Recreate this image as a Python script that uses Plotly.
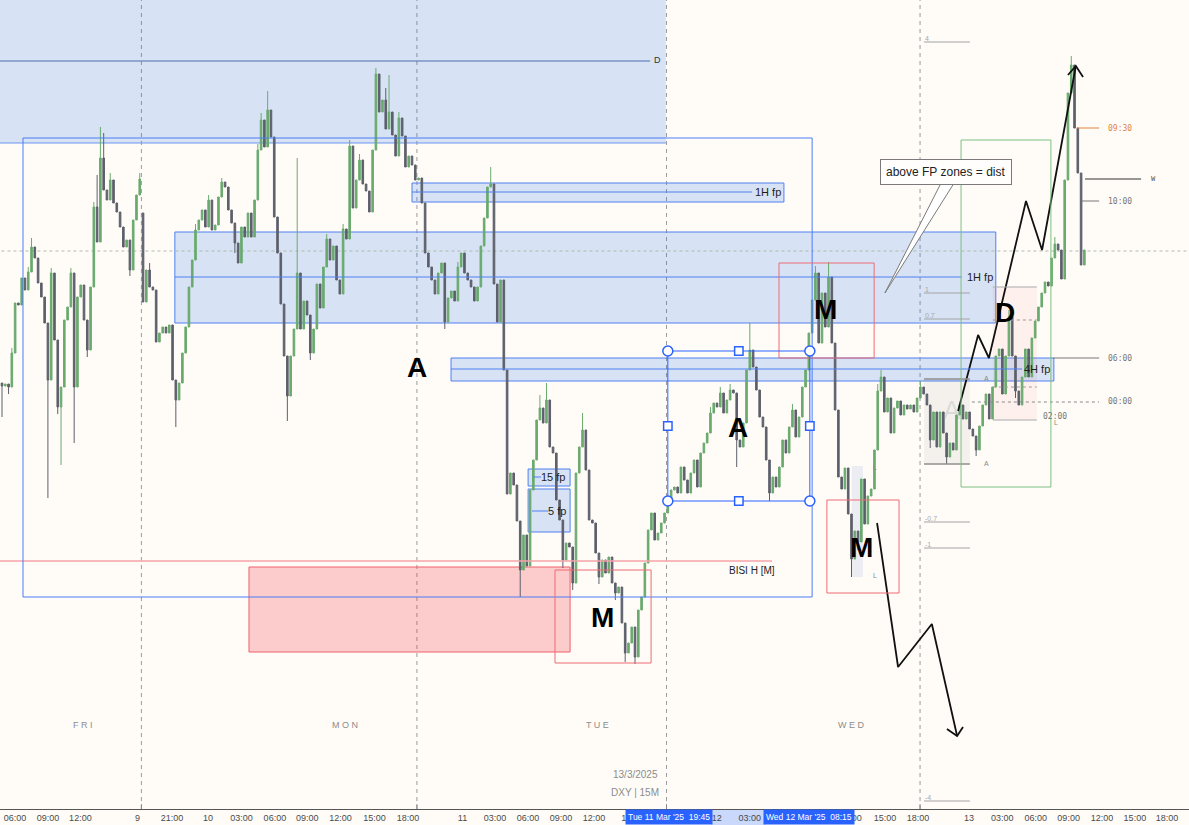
import plotly.graph_objects as go

# ---------------- DXY 15M candle data ----------------
first_open = 104.117
reopen = {43: 104.287}          # Sunday session re-open after the weekend gap
closes = [
    104.114, 104.116, 104.113, 104.147, 104.197, 104.195, 104.222, 104.210, 104.228, 104.253,
    104.242, 104.217, 104.203, 104.177, 104.120, 104.227, 104.160, 104.093, 104.113, 104.180,
    104.193, 104.227, 104.113, 104.203, 104.215, 104.180, 104.150, 104.213, 104.293, 104.258,
    104.342, 104.310, 104.300, 104.320, 104.297, 104.288, 104.273, 104.253, 104.260, 104.230,
    104.280, 104.305, 104.321, 104.198, 104.230, 104.213, 104.210, 104.158, 104.167, 104.173,
    104.167, 104.175, 104.120, 104.100, 104.117, 104.147, 104.173, 104.213, 104.240, 104.270,
    104.280, 104.290, 104.273, 104.300, 104.270, 104.275, 104.303, 104.318, 104.313, 104.290,
    104.277, 104.257, 104.237, 104.273, 104.263, 104.287, 104.263, 104.300, 104.350, 104.380,
    104.353, 104.390, 104.363, 104.283, 104.247, 104.196, 104.144, 104.104, 104.144, 104.171,
    104.227, 104.171, 104.199, 104.185, 104.147, 104.171, 104.216, 104.192, 104.233, 104.261,
    104.240, 104.254, 104.220, 104.206, 104.271, 104.261, 104.354, 104.292, 104.320, 104.340,
    104.316, 104.309, 104.288, 104.350, 104.426, 104.388, 104.400, 104.371, 104.388, 104.365,
    104.344, 104.382, 104.364, 104.333, 104.344, 104.335, 104.320, 104.322, 104.297, 104.247,
    104.233, 104.220, 104.206, 104.227, 104.237, 104.178, 104.202, 104.209, 104.199, 104.233,
    104.247, 104.227, 104.220, 104.213, 104.199, 104.213, 104.254, 104.282, 104.313, 104.316,
    104.216, 104.178, 104.220, 104.130, 104.006, 104.027, 104.015, 103.979, 103.930, 103.965,
    103.934, 104.010, 104.040, 104.080, 104.092, 104.077, 104.100, 104.053, 104.047, 104.000,
    103.980, 103.940, 103.957, 103.953, 103.917, 104.027, 104.053, 104.070, 104.030, 103.980,
    103.977, 103.947, 103.923, 103.940, 103.927, 103.943, 103.917, 103.907, 103.913, 103.877,
    103.847, 103.857, 103.873, 103.843, 103.890, 103.903, 103.937, 103.970, 103.987, 103.960,
    103.967, 103.977, 103.987, 103.997, 104.010, 104.013, 104.007, 104.033, 104.020, 104.007,
    104.027, 104.040, 104.013, 104.047, 104.057, 104.067, 104.087, 104.097, 104.093, 104.107,
    104.087, 104.100, 104.110, 104.107, 104.060, 104.053, 104.077, 104.130, 104.150, 104.133,
    104.110, 104.083, 104.073, 104.040, 104.007, 104.023, 104.013, 104.033, 104.060, 104.047,
    104.073, 104.090, 104.063, 104.083, 104.113, 104.130, 104.167, 104.200, 104.227, 104.157,
    104.207, 104.173, 104.223, 104.157, 104.090, 104.023, 104.011, 104.032, 103.986, 103.941,
    103.969, 103.958, 104.021, 103.976, 104.004, 104.011, 104.050, 104.109, 104.123, 104.088,
    104.102, 104.067, 104.092, 104.099, 104.085, 104.095, 104.091, 104.095, 104.088, 104.102,
    104.113, 104.106, 104.095, 104.060, 104.088, 104.053, 104.088, 104.067, 104.043, 104.057,
    104.050, 104.085, 104.095, 104.081, 104.088, 104.071, 104.064, 104.050, 104.074, 104.095,
    104.106, 104.081, 104.113, 104.144, 104.151, 104.106, 104.144, 104.183, 104.144, 104.109,
    104.095, 104.123, 104.151, 104.123, 104.162, 104.179, 104.193, 104.207, 104.218, 104.214,
    104.242, 104.256, 104.250, 104.221, 104.320, 104.407, 104.435, 104.372, 104.327, 104.235,
    104.250,
]
wick_high = {3: 104.152, 8: 104.233, 9: 104.262, 15: 104.232, 21: 104.232, 28: 104.298,
             29: 104.325, 30: 104.373, 31: 104.367, 33: 104.327, 42: 104.327, 45: 104.237,
             59: 104.276, 63: 104.305, 67: 104.322, 78: 104.356, 79: 104.387, 81: 104.409,
             90: 104.342, 99: 104.266, 104: 104.276, 106: 104.360, 109: 104.346, 114: 104.432,
             117: 104.412, 118: 104.425, 121: 104.388, 139: 104.238, 149: 104.333, 164: 104.105,
             166: 104.117, 177: 104.087, 203: 104.003, 216: 104.093, 219: 104.113, 222: 104.116,
             228: 104.177, 241: 104.096, 248: 104.234, 252: 104.238, 267: 104.116, 268: 104.130,
             280: 104.119, 307: 104.190, 321: 104.263, 326: 104.444}
wick_low = {0: 104.083, 2: 104.106, 14: 104.002, 17: 104.086, 18: 104.035, 22: 104.057,
            26: 104.143, 39: 104.224, 53: 104.073, 71: 104.247, 87: 104.079, 94: 104.140,
            135: 104.171, 158: 103.903, 171: 103.932, 174: 103.910, 182: 103.916, 187: 103.900,
            190: 103.838, 193: 103.836, 224: 104.033, 234: 103.999, 259: 103.923, 261: 103.950,
            283: 104.052, 288: 104.036, 297: 104.044, 309: 104.102}

# ---------------- time axis (bar index positions) ----------------
# labels partly covered by the crosshair date boxes show only their visible fragment
tick_idx = [4.0, 14.0, 23.9, 41.3, 51.8, 62.8, 73.0, 83.2, 93.1, 103.2, 113.6, 123.8, 140.4,
            150.3, 160.4, 170.4, 180.5, 189.6, 217.9, 228.0, 260.6, 269.2, 279.3,
            294.8, 305.0, 315.2, 325.2, 335.4, 345.4, 355.2]
tick_txt = ["06:00", "09:00", "12:00", "9", "21:00", "10", "03:00", "06:00", "09:00", "12:00",
            "15:00", "18:00", "11", "03:00", "06:00", "09:00", "12:00", "1", "12", "03:00",
            "00", "15:00", "18:00", "13", "03:00", "06:00", "09:00",
            "12:00", "15:00", "18:00"]
session_breaks = [42.5, 126.5, 202.6, 279.9]
day_names = ["F R I", "M O N", "T U E", "W E D"]
day_pos = [24.7, 104.6, 181.7, 258.8]

# ---------------- drawings (time index, price) ----------------
zones = [(-2.0, 202.4, 104.56, 104.357), (125.0, 238.4, 104.317, 104.298),
         (52.7, 303.0, 104.268, 104.177), (136.9, 320.7, 104.142, 104.119),
         (160.4, 173.2, 104.031, 104.014), (160.4, 173.2, 104.011, 103.968)]
zone_mids = [(-2.0, 197.6, 104.439), (125.0, 228.7, 104.308), (52.7, 292.7, 104.223),
             (136.9, 311.0, 104.131), (161.9, 164.3, 104.023), (161.6, 166.5, 103.989)]
zone_labels = [("D", 200.0, 104.440), ("1H fp", 233.6, 104.308), ("1H fp", 298.3, 104.223),
               ("4H fp", 315.6, 104.131), ("15 fp", 168.1, 104.023), ("5 fp", 169.3, 103.989)]
blue_box = (6.4, 247.0, 104.362, 103.903)
red_boxes = [(168.6, 197.9, 103.930, 103.837), (236.9, 265.9, 104.237, 104.142),
             (251.5, 273.5, 104.000, 103.907)]
red_fill_box = (75.3, 173.2, 103.933, 103.848)
bisi_line = (-0.6, 234.8, 103.939)
sel_box = (203.0, 246.3, 104.149, 103.999)
green_box = (292.4, 319.8, 104.360, 104.013)
pink_box = (302.1, 315.5, 104.213, 104.080)
gray_box = (281.1, 295.1, 104.121, 104.036)
ghost_box = (259.1, 262.5, 104.034, 103.923)
fib_levels = [("4", 104.458), ("1", 104.207), ("0.7", 104.181), ("-0.7", 103.978),
              ("-1", 103.952), ("-4", 103.699)]
fib_x = (281.1, 295.1)
last_price = 104.249
up_path = ([291.5, 297.6, 300.9, 312.2, 317.1, 327.4],
           [104.089, 104.165, 104.142, 104.299, 104.250, 104.434])
up_head = ([325.0, 327.4, 329.6], [104.425, 104.434, 104.423])
down_path = ([266.8, 273.2, 283.5, 291.2], [103.977, 103.833, 103.876, 103.764])
down_head = ([288.1, 291.2, 293.0], [103.771, 103.764, 103.773])
callout_tail = ([286.0, 269.2, 289.9], [104.315, 104.207, 104.315])
time_marks = [("09:30", 327.7, 334.5, 104.372, "#e2843c"), ("10:00", 329.3, 334.5, 104.299, "#777777"),
              ("06:00", 320.4, 334.5, 104.142, "#777777")]
big_letters = [("A", 126.5, 104.133), ("A", 224.4, 104.073), ("M", 183.2, 103.883),
               ("M", 251.2, 104.191), ("M", 262.2, 103.953), ("D", 305.8, 104.188)]
date_boxes = [("Tue 11 Mar '25&nbsp;&nbsp;19:45", 203.4), ("Wed 12 Mar '25&nbsp;&nbsp;08:15", 246.0)]

# ---------------- build ----------------
opens, highs, lows = [], [], []
prev = first_open
for i, c in enumerate(closes):
    o = reopen.get(i, prev)
    opens.append(o)
    highs.append(wick_high.get(i, max(o, c)))
    lows.append(wick_low.get(i, min(o, c)))
    prev = c
bars = list(range(len(closes)))

BG = "#fffcf8"
fig = go.Figure()
fig.add_trace(go.Candlestick(
    x=bars, open=opens, high=highs, low=lows, close=closes,
    increasing=dict(line=dict(color="#6aaa6e", width=1), fillcolor="#6aaa6e"),
    decreasing=dict(line=dict(color="#5d606b", width=1), fillcolor="#5d606b"),
    whiskerwidth=0, hoverinfo="skip", showlegend=False))

shapes = []
def rect(x0, x1, y0, y1, line=None, fill=None, layer="above", width=1, dash=None):
    shapes.append(dict(type="rect", x0=x0, x1=x1, y0=y0, y1=y1, xref="x", yref="y",
                       line=dict(color=line or "rgba(0,0,0,0)", width=width if line else 0, dash=dash),
                       fillcolor=fill or "rgba(0,0,0,0)", layer=layer))
def hline(x0, x1, y, color, width=1, dash=None, layer="above"):
    shapes.append(dict(type="line", x0=x0, x1=x1, y0=y, y1=y, xref="x", yref="y",
                       line=dict(color=color, width=width, dash=dash), layer=layer))

# zones
ZFILL = "rgba(33,110,230,0.18)"
for k, (x0, x1, t, b) in enumerate(zones):
    if k == 0:
        rect(x0, x1, b, t, fill=ZFILL, layer="below")
        hline(x0, x1, b, "#6a95f0", layer="below")
    else:
        rect(x0, x1, b, t, line="#4f80f2", fill=ZFILL, layer="below")
for k, (x0, x1, y) in enumerate(zone_mids):
    hline(x0, x1, y, "#4d6fb0" if k == 0 else "#4f80f2")
# session separators
for s in session_breaks:
    shapes.append(dict(type="line", x0=s, x1=s, y0=0, y1=1, xref="x", yref="paper",
                       line=dict(color="#9c9c9c", width=1, dash="4px,4px"), layer="below"))
# last price dotted
hline(-2, 365, last_price, "#aebbae", 1, "dot", "below")
# boxes
rect(*gray_box[:2], gray_box[3], gray_box[2], fill="rgba(120,120,120,0.08)", layer="below")
hline(gray_box[0], gray_box[1], gray_box[2], "#8f8f8f", 1.5)
hline(gray_box[0], gray_box[1], gray_box[3], "#8f8f8f", 1.5)
rect(*pink_box[:2], pink_box[3], pink_box[2], fill="rgba(242,54,69,0.06)", layer="below")
hline(pink_box[0], pink_box[1], pink_box[2], "#a9a9a9", 1.2)
hline(pink_box[0], pink_box[1], pink_box[3], "#a9a9a9", 1.2)
hline(pink_box[0], pink_box[1], 104.180, "#9a9a9a", 1, "dot")
hline(pink_box[0], pink_box[1], 104.113, "#9a9a9a", 1, "dot")
hline(295.7, 334.5, 104.098, "#8a8a8a", 1, "dot")
rect(*ghost_box[:2], ghost_box[3], ghost_box[2], fill="rgba(150,170,220,0.18)", layer="below")
rect(red_fill_box[0], red_fill_box[1], red_fill_box[3], red_fill_box[2],
     line="#f0606c", fill="rgba(242,54,69,0.25)", layer="below")
hline(bisi_line[0], bisi_line[1], bisi_line[2], "#f6a3aa", 1.5)
rect(blue_box[0], blue_box[1], blue_box[3], blue_box[2], line="#4a7cf5")
for x0, x1, t, b in red_boxes:
    rect(x0, x1, b, t, line="#ee6b75")
rect(green_box[0], green_box[1], green_box[3], green_box[2], line="#7dbf80")
rect(sel_box[0], sel_box[1], sel_box[3], sel_box[2], line="#2962ff")
# fib lines
for lab, y in fib_levels:
    hline(fib_x[0], fib_x[1], y, "#a3a3a3", 1)
# time markers on the right
for lab, x0, x1, y, col in time_marks:
    hline(x0, x1, y, col, 1)
hline(330.2, 347.3, 104.321, "#333333", 1.2)
# callout tail
shapes.append(dict(type="path", xref="x", yref="y", layer="above",
                   path="M {},{} L {},{} L {},{}".format(callout_tail[0][0], callout_tail[1][0],
                                                       callout_tail[0][1], callout_tail[1][1],
                                                       callout_tail[0][2], callout_tail[1][2]),
                   line=dict(color="#7a7a7a", width=1), fillcolor="#ffffff"))
# selection handles
hx, hy = 10 / 3.28, 0.010
sx0, sx1, st, sb = sel_box
cx_m, cy_m = (sx0 + sx1) / 2, (st + sb) / 2
for (cx, cy) in [(sx0, st), (sx1, st), (sx0, sb), (sx1, sb)]:
    shapes.append(dict(type="circle", xref="x", yref="y", x0=cx - hx / 2, x1=cx + hx / 2,
                       y0=cy - hy / 2, y1=cy + hy / 2, fillcolor="white",
                       line=dict(color="#2962ff", width=1.5), layer="above"))
for (cx, cy) in [(cx_m, st), (cx_m, sb), (sx0, cy_m), (sx1, cy_m)]:
    shapes.append(dict(type="rect", xref="x", yref="y", x0=cx - hx * 0.42, x1=cx + hx * 0.42,
                       y0=cy - hy * 0.42, y1=cy + hy * 0.42, fillcolor="white",
                       line=dict(color="#2962ff", width=1.5), layer="above"))
# light blue axis band between highlighted dates
shapes.append(dict(type="rect", xref="x", yref="paper", x0=216.2, x1=232.9, y0=-0.0198, y1=-0.0012,
                   fillcolor="#c9d8fb", line=dict(width=0), layer="below"))
# small session marks on the time axis
for s in session_breaks:
    shapes.append(dict(type="line", x0=s, x1=s, y0=0.0, y1=0.006, xref="x", yref="paper",
                       line=dict(color="#888888", width=1), layer="above"))

# zigzag arrows
for px, py in [up_path, up_head, down_path, down_head]:
    fig.add_trace(go.Scatter(x=px, y=py, mode="lines", line=dict(color="#111111", width=1.8),
                             hoverinfo="skip", showlegend=False))

ann = []
def text(t, x, y, size=11, color="#222222", xanchor="center", yanchor="middle", family="Liberation Sans", **kw):
    d = dict(text=t, x=x, y=y, xref="x", yref="y", showarrow=False, xanchor=xanchor,
             yanchor=yanchor, font=dict(size=size, color=color, family=family))
    d.update(kw)
    ann.append(d)

for t, x, y in zone_labels:
    text(t, x, y, size=9 if t == "D" else 11, color="#333333" if t == "D" else "#1e1e1e")
text("BISI H [M]", 228.7, 103.930, size=10)
for t, x, y in big_letters:
    text("<b>%s</b>" % t, x, y, size=28, color="#000000")
text("A", 289.5, 104.090, size=26, color="rgba(150,150,150,0.25)")
for t, x, y in [("A", 300.3, 104.122), ("A", 300.3, 104.037)]:
    text(t, x, y, size=7, color="#8a8a8a")
for t, x, y in [("L", 266.2, 104.033), ("L", 266.2, 103.925), ("L", 321.5, 104.078)]:
    text(t, x, y, size=7, color="#8a8a8a")
for lab, y in fib_levels:
    text(lab, 280.8, y + 0.004, size=7, color="#a8a8a8", xanchor="left")
for lab, x0, x1, y, col in time_marks:
    text(lab, 340.9, y, size=8, color=col, family="DejaVu Sans Mono")
text("00:00", 340.9, 104.099, size=8, color="#777777", family="DejaVu Sans Mono")
text("02:00", 321.0, 104.084, size=8, color="#777777", family="DejaVu Sans Mono")
text("W", 351.2, 104.321, size=7, color="#555555", family="DejaVu Sans Mono")
text("above FP zones = dist", 287.8, 104.3285, size=12, color="#222222",
     bgcolor="#fffefc", bordercolor="#7a7a7a", borderwidth=1, borderpad=5)
for t, x in zip(day_names, day_pos):
    text(t, x, 103.775, size=9, color="#8c8c8c")
text("13/3/2025", 193.0, 103.726, size=10, color="#8c8c8c")
text("DXY | 15M", 193.0, 103.708, size=10, color="#8c8c8c")
for t, x in date_boxes:
    ann.append(dict(text=t, x=x, y=-0.0105, xref="x", yref="paper", showarrow=False,
                    xanchor="center", yanchor="middle", bgcolor="#2962ff", borderpad=2,
                    font=dict(size=8.5, color="white", family="Liberation Sans")))

fig.update_layout(
    width=1189, height=825, margin=dict(l=0, r=0, t=0, b=16),
    paper_bgcolor=BG, plot_bgcolor=BG, shapes=shapes, annotations=ann, showlegend=False,
    xaxis=dict(range=[-0.61, 361.9], showgrid=False, zeroline=False, rangeslider=dict(visible=False),
               tickmode="array", tickvals=tick_idx, ticktext=tick_txt, ticks="",
               tickfont=dict(size=9, color="#4a4a4a", family="Liberation Sans"),
               showline=True, linecolor="#555555", linewidth=1),
    yaxis=dict(range=[103.691, 104.5], visible=False, showgrid=False, zeroline=False),
)
fig.write_html("out.html", config={"displayModeBar": False},
               post_script="document.body.style.margin='0';document.body.style.overflow='hidden';"
                           "document.body.style.background='%s';" % BG)
